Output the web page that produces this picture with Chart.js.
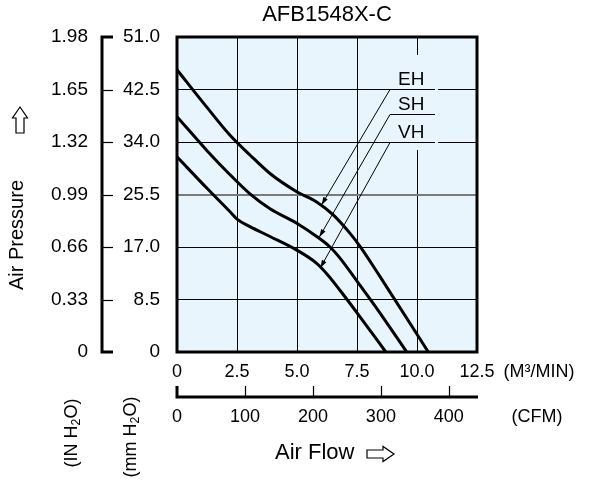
<!DOCTYPE html>
<html><head><meta charset="utf-8">
<script src="https://cdn.jsdelivr.net/npm/chart.js@4/dist/chart.umd.min.js"></script>
<style>html,body{margin:0;padding:0;background:#fff;}#wrap{width:593px;height:494px;}</style>
</head><body><div id="wrap"><canvas id="c" width="593" height="494"></canvas></div>
<script>
const TITLE = 'AFB1548X-C';
const CURVE_NAMES = ['EH', 'SH', 'VH'];
const EH_FLOW  = [0, 1.25, 2.21, 3.04, 3.875, 4.99, 5.82, 6.51, 7.21, 7.625, 8.46, 10.47];
const EH_PRESS = [45.7, 39.6, 35.1, 31.9, 28.9, 25.95, 24.3, 22.2, 19.2, 17.1, 12.2, 0];
const SH_FLOW  = [0, 1.25, 2.21, 3.04, 3.875, 4.99, 5.82, 6.375, 6.79, 7.55, 8.46, 9.57];
const SH_PRESS = [38.1, 32.6, 28.7, 25.6, 23.2, 20.85, 18.7, 17.0, 15.2, 11.2, 6.3, 0];
const VH_FLOW  = [0, 1.25, 2.21, 2.5, 3.04, 3.875, 4.99, 5.82, 6.3, 6.79, 7.625, 8.7];
const VH_PRESS = [31.6, 26.5, 22.7, 21.5, 20.3, 18.7, 16.5, 14.35, 12.4, 10.0, 5.7, 0];
const FLOW_TICKS = [0, 2.5, 5, 7.5, 10, 12.5];
const MMH2O_TICKS = [0, 8.5, 17, 25.5, 34, 42.5, 51];
const INH2O_TICKS = [0, 0.33, 0.66, 0.99, 1.32, 1.65, 1.98];
const CFM_TICKS = [0, 100, 200, 300, 400];
const CFM_PER_M3MIN = 35.3147;
const LABEL_LEVELS = [42.5, 38.5, 34];          // mmH2O level of each label underline
const ARROW_TIPS = [[6.02, 23.8], [5.93, 18.6], [5.97, 13.6]]; // flow, mmH2O

const FONT = "'Liberation Sans', Arial, sans-serif";
const BG = '#e9f5fc';

function drawRich(ctx, parts, cx, cy, size) {
  let w = 0;
  parts.forEach(p => { ctx.font = (p.small ? size * 0.68 : size) + 'px ' + FONT; p.w = ctx.measureText(p.t).width; w += p.w; });
  let x = cx - w / 2;
  ctx.textAlign = 'left'; ctx.textBaseline = 'middle';
  parts.forEach(p => {
    ctx.font = (p.small ? size * 0.68 : size) + 'px ' + FONT;
    ctx.fillText(p.t, x, cy + (p.small ? size * 0.28 : 0));
    x += p.w;
  });
}

const decor = {
  id: 'decor',
  beforeDraw(chart) {
    const {ctx, chartArea: a} = chart;
    ctx.save(); ctx.fillStyle = BG; ctx.fillRect(a.left, a.top, a.right - a.left, a.bottom - a.top); ctx.restore();
  },
  beforeDatasetsDraw(chart) {
    const {ctx} = chart; const xs = chart.scales.x, ys = chart.scales.y;
    ctx.save();
    ctx.fillStyle = BG;
    const gx = xs.getPixelForValue(10);
    ctx.fillRect(gx - 2, ys.getPixelForValue(48.1), 4, ys.getPixelForValue(32.7) - ys.getPixelForValue(48.1));
    const g1 = xs.getPixelForValue(10.75), g2 = xs.getPixelForValue(10.875);
    ctx.fillRect(g1, ys.getPixelForValue(44), g2 - g1, ys.getPixelForValue(32.5) - ys.getPixelForValue(44));
    ctx.restore();
  },
  afterDatasetsDraw(chart) {
    const {ctx, chartArea: a} = chart; const xs = chart.scales.x, ys = chart.scales.y;
    ctx.save();
    ctx.strokeStyle = '#000'; ctx.lineWidth = 3;
    ctx.strokeRect(a.left, a.top, a.right - a.left, a.bottom - a.top);
    const ux1 = xs.getPixelForValue(8.875), ux2 = xs.getPixelForValue(10.75);
    CURVE_NAMES.forEach((n, i) => {
      const uy = Math.round(ys.getPixelForValue(LABEL_LEVELS[i])) + 0.5;
      ctx.strokeStyle = '#000'; ctx.lineWidth = 1;
      ctx.beginPath(); ctx.moveTo(ux1, uy); ctx.lineTo(ux2, uy); ctx.stroke();
      ctx.fillStyle = '#000'; ctx.font = '19px ' + FONT; ctx.textAlign = 'left'; ctx.textBaseline = 'middle';
      ctx.fillText(n, xs.getPixelForValue(9.21), uy - 10);
      const tx = xs.getPixelForValue(ARROW_TIPS[i][0]), ty = ys.getPixelForValue(ARROW_TIPS[i][1]);
      ctx.beginPath(); ctx.moveTo(ux1, uy); ctx.lineTo(tx, ty); ctx.stroke();
      const ang = Math.atan2(ty - uy, tx - ux1), L = 8, W = 2.5;
      ctx.beginPath(); ctx.moveTo(tx, ty);
      ctx.lineTo(tx - L * Math.cos(ang) + W * Math.sin(ang), ty - L * Math.sin(ang) - W * Math.cos(ang));
      ctx.lineTo(tx - L * Math.cos(ang) - W * Math.sin(ang), ty - L * Math.sin(ang) + W * Math.cos(ang));
      ctx.closePath(); ctx.fill();
    });
    ctx.restore();
  },
  afterDraw(chart) {
    const {ctx, chartArea: a} = chart;
    const y2 = chart.scales.y2, x2 = chart.scales.x2;
    ctx.save();
    ctx.strokeStyle = '#000'; ctx.fillStyle = '#000';
    ctx.font = '22px ' + FONT; ctx.textAlign = 'center'; ctx.textBaseline = 'middle';
    ctx.fillText(TITLE, (a.left + a.right) / 2, 15);
    const bx = y2.right - 11, top = y2.getPixelForValue(1.98), bot = y2.getPixelForValue(0);
    ctx.lineWidth = 3;
    ctx.beginPath(); ctx.moveTo(y2.right, top); ctx.lineTo(bx, top); ctx.lineTo(bx, bot); ctx.lineTo(y2.right, bot); ctx.stroke();
    ctx.lineWidth = 1.2;
    INH2O_TICKS.slice(1, -1).forEach(v => { const py = Math.round(y2.getPixelForValue(v)) + 0.5; ctx.beginPath(); ctx.moveTo(bx, py); ctx.lineTo(y2.right, py); ctx.stroke(); });
    const by = x2.top + 11, l = x2.getPixelForValue(0), r = a.right + 1;
    ctx.lineWidth = 3;
    ctx.beginPath(); ctx.moveTo(l, x2.top); ctx.lineTo(l, by); ctx.lineTo(r, by); ctx.stroke();
    ctx.lineWidth = 1.2;
    CFM_TICKS.slice(1).forEach(v => { const px = Math.round(x2.getPixelForValue(v)) + 0.5; ctx.beginPath(); ctx.moveTo(px, x2.top); ctx.lineTo(px, by); ctx.stroke(); });
    ctx.textBaseline = 'middle'; ctx.textAlign = 'center';
    ctx.font = '18px ' + FONT;
    ctx.fillText('(M³/MIN)', 539, 372);
    ctx.fillText('(CFM)', 537, 417);
    ctx.font = '22px ' + FONT; ctx.textAlign = 'left';
    ctx.fillText('Air Flow', 275, 453);
    ctx.lineWidth = 1.2;
    ctx.beginPath();
    ctx.moveTo(367, 450); ctx.lineTo(383, 450); ctx.lineTo(383, 446.5); ctx.lineTo(394, 454); ctx.lineTo(383, 461.5); ctx.lineTo(383, 458); ctx.lineTo(367, 458); ctx.closePath(); ctx.stroke();
    ctx.beginPath();
    ctx.moveTo(16, 133); ctx.lineTo(16, 118); ctx.lineTo(12.5, 118); ctx.lineTo(20, 107); ctx.lineTo(27.5, 118); ctx.lineTo(24, 118); ctx.lineTo(24, 133); ctx.closePath(); ctx.stroke();
    const rot = (cx, cy, fn) => { ctx.save(); ctx.translate(cx, cy); ctx.rotate(-Math.PI / 2); fn(); ctx.restore(); };
    rot(17, 235, () => { ctx.font = '20px ' + FONT; ctx.textAlign = 'center'; ctx.textBaseline = 'middle'; ctx.fillText('Air Pressure', 0, 0); });
    rot(72, 433, () => drawRich(ctx, [{t: '(IN H'}, {t: '2', small: true}, {t: 'O)'}], 0, 0, 18));
    rot(131, 437, () => drawRich(ctx, [{t: '(mm H'}, {t: '2', small: true}, {t: 'O)'}], 0, 0, 18));
    ctx.restore();
  }
};

const mk = (fl, pr) => fl.map((x, i) => ({x, y: pr[i]}));
const ds = (lbl, fl, pr) => ({label: lbl, data: mk(fl, pr), borderColor: '#000', borderWidth: 3, pointRadius: 0, fill: false, cubicInterpolationMode: 'monotone'});
const tickFont = {family: FONT, size: 18};

new Chart(document.getElementById('c'), {
  type: 'line',
  data: {datasets: [ds(CURVE_NAMES[0], EH_FLOW, EH_PRESS), ds(CURVE_NAMES[1], SH_FLOW, SH_PRESS), ds(CURVE_NAMES[2], VH_FLOW, VH_PRESS)]},
  options: {
    responsive: false, animation: false, devicePixelRatio: 1,
    layout: {padding: {left: 0, right: 116, top: 37, bottom: 58}},
    plugins: {legend: {display: false}, tooltip: {enabled: false}, title: {display: false}},
    scales: {
      x: {type: 'linear', position: 'bottom', weight: 0, min: 0, max: 12.5,
        afterBuildTicks: s => { s.ticks = FLOW_TICKS.map(v => ({value: v})); },
        ticks: {callback: v => v === 0 ? '0' : v.toFixed(1), font: tickFont, color: '#000', padding: 9, maxRotation: 0, autoSkip: false},
        grid: {color: '#000', lineWidth: 1, drawTicks: false}, border: {display: false},
        afterFit: s => { s.height = 34; }},
      x2: {type: 'linear', position: 'bottom', weight: 1, min: 0, max: 12.5 * CFM_PER_M3MIN,
        afterBuildTicks: s => { s.ticks = CFM_TICKS.map(v => ({value: v})); },
        ticks: {callback: v => String(v), font: tickFont, color: '#000', padding: 20, maxRotation: 0, autoSkip: false},
        grid: {display: false, drawTicks: false}, border: {display: false},
        afterFit: s => { s.height = 50; }},
      y: {type: 'linear', position: 'left', weight: 0, min: 0, max: 51,
        afterBuildTicks: s => { s.ticks = MMH2O_TICKS.map(v => ({value: v})); },
        ticks: {callback: v => v === 0 ? '0' : v.toFixed(1), font: {family: FONT, size: 19}, color: '#000', padding: 17, autoSkip: false},
        grid: {color: c => (c.tick && c.tick.value === 25.5) ? '#7a7a7a' : '#000', lineWidth: c => (c.tick && c.tick.value === 25.5) ? 2 : 1, drawTicks: false},
        border: {display: false},
        afterFit: s => { s.width = 64; }},
      y2: {type: 'linear', position: 'left', weight: 1, min: 0, max: 1.98,
        afterBuildTicks: s => { s.ticks = INH2O_TICKS.map(v => ({value: v})); },
        ticks: {callback: v => v === 0 ? '0' : v.toFixed(2), font: {family: FONT, size: 19}, color: '#000', padding: 25, autoSkip: false},
        grid: {display: false, drawTicks: false}, border: {display: false},
        afterFit: s => { s.width = 113; }}
    }
  },
  plugins: [decor]
});
</script></body></html>
